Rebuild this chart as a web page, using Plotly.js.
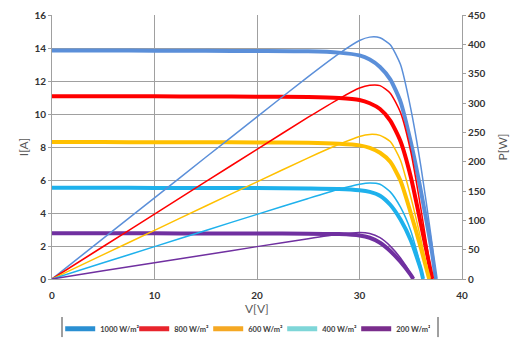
<!DOCTYPE html>
<html>
<head>
<meta charset="utf-8">
<script src="https://cdn.plot.ly/plotly-3.0.1.min.js"></script>
<style>html,body{margin:0;padding:0;background:#fff}#chart{width:510px;height:338px}</style>
</head>
<body>
<div id="chart"></div>
<script>
// Irradiance labels
var seriesNames = ['1000 W/m²', '800 W/m²', '600 W/m²', '400 W/m²', '200 W/m²'];

// Voltage samples (V) per irradiance
var v1000 = [0, 5, 10, 15, 20, 25, 28, 30, 31, 32, 33, 34, 35, 36, 37, 37.45];
var v800  = [0, 5, 10, 15, 20, 25, 28, 30, 31, 32, 33, 34, 35, 36, 37.1];
var v600  = [0, 5, 10, 15, 20, 25, 28, 30, 31, 32, 33, 34, 35, 36, 36.8];
var v400  = [0, 5, 10, 15, 20, 25, 28, 30, 31, 32, 33, 34, 35, 36, 36.2];
var v200  = [0, 5, 10, 15, 20, 25, 28, 30, 31, 32, 33, 34, 35, 35.25];

// Current (A)
var i1000 = [13.85, 13.85, 13.84, 13.83, 13.82, 13.80, 13.72, 13.55, 13.30, 12.85, 12.10, 10.75, 8.30, 5.30, 1.90, 0];
var i800  = [11.08, 11.08, 11.07, 11.06, 11.05, 11.03, 10.97, 10.85, 10.65, 10.30, 9.60, 8.35, 6.20, 3.30, 0];
var i600  = [8.30, 8.30, 8.29, 8.29, 8.28, 8.26, 8.20, 8.10, 7.95, 7.65, 7.10, 5.95, 4.00, 1.85, 0];
var i400  = [5.53, 5.53, 5.52, 5.52, 5.51, 5.49, 5.46, 5.38, 5.28, 5.05, 4.50, 3.60, 2.35, 0.55, 0];
var i200  = [2.77, 2.77, 2.77, 2.76, 2.76, 2.75, 2.72, 2.64, 2.50, 2.20, 1.70, 1.05, 0.25, 0];

// Power (W)
var p1000 = [0, 69.3, 138.4, 207.5, 276.4, 345.0, 384.2, 406.5, 412.3, 411.2, 399.3, 365.5, 290.5, 190.8, 70.3, 0];
var p800  = [0, 55.4, 110.7, 165.9, 221.0, 275.8, 307.2, 325.5, 330.2, 329.6, 316.8, 283.9, 217.0, 118.8, 0];
var p600  = [0, 41.5, 82.9, 124.4, 165.6, 206.5, 229.6, 243.0, 246.5, 244.8, 234.3, 202.3, 140.0, 66.6, 0];
var p400  = [0, 27.7, 55.2, 82.8, 110.2, 137.3, 152.9, 161.4, 163.7, 161.6, 148.5, 122.4, 82.3, 19.8, 0];
var p200  = [0, 13.9, 27.7, 41.4, 55.2, 68.8, 76.2, 79.2, 77.5, 70.4, 56.1, 35.7, 8.8, 0];

var plotColors   = ['#5B8FD9', '#FF0000', '#FFC000', '#1EB1EC', '#7030A0'];
var legendColors = ['#2A8FD2', '#E8242C', '#F5A823', '#7ED6D8', '#7A2D8C'];

var V = [v1000, v800, v600, v400, v200];
var I = [i1000, i800, i600, i400, i200];
var P = [p1000, p800, p600, p400, p200];

var traces = [];
for (var k = 0; k < 5; k++) {
  traces.push({x: V[k], y: I[k], yaxis: 'y', mode: 'lines', showlegend: false, hoverinfo: 'skip',
    line: {color: plotColors[k], width: 4, shape: 'spline', smoothing: 0.6}});
}
for (var k = 0; k < 5; k++) {
  traces.push({x: V[k], y: P[k], yaxis: 'y2', mode: 'lines', showlegend: false, hoverinfo: 'skip',
    line: {color: plotColors[k], width: 1.5, shape: 'spline', smoothing: 0.6}});
}
for (var k = 0; k < 5; k++) {
  traces.push({x: [null], y: [null], mode: 'lines', name: seriesNames[k], showlegend: true,
    line: {color: legendColors[k], width: 5}});
}

var fontFam = 'Lato, "Open Sans", sans-serif';
var tickFont = {family: fontFam, size: 10, color: '#333333', weight: 'bold'};
var titleFont = {family: fontFam, size: 12, color: '#595959'};
var gridCol = '#A0A0A0';

var layout = {
  width: 510, height: 338,
  margin: {l: 52, r: 48, t: 15, b: 59, autoexpand: false},
  paper_bgcolor: '#fff', plot_bgcolor: '#fff',
  showlegend: true,
  xaxis: {range: [0, 40], dtick: 10, showgrid: true, gridcolor: gridCol, gridwidth: 1, automargin: false,
    showline: true, linecolor: gridCol, linewidth: 1, zeroline: false, ticks: '', ticklabelstandoff: 7,
    tickfont: tickFont},
  yaxis: {range: [0, 16], dtick: 2, showgrid: true, gridcolor: gridCol, gridwidth: 1, automargin: false,
    showline: true, linecolor: gridCol, linewidth: 1, zeroline: false, ticks: 'outside', ticklen: 3, tickcolor: gridCol,
    tickfont: tickFont, title: {text: 'I[A]', font: titleFont, standoff: 3}},
  yaxis2: {range: [0, 450], dtick: 50, overlaying: 'y', side: 'right', showgrid: false, automargin: false,
    showline: true, linecolor: gridCol, linewidth: 1, zeroline: false, ticks: 'outside', ticklen: 3, tickcolor: gridCol,
    tickfont: tickFont, title: {text: 'P[W]', font: titleFont, standoff: 13}},
  annotations: [
    {text: 'V[V]', xref: 'paper', yref: 'paper', x: 0.5, y: -0.11, xanchor: 'center', yanchor: 'middle',
     showarrow: false, font: titleFont}
  ],
  legend: {orientation: 'h', x: 0.02, xanchor: 'left', yref: 'container', y: 0.07, yanchor: 'top',
    font: {family: fontFam, size: 7.5, color: '#404040', weight: 'bold'},
    itemwidth: 30, entrywidth: 29, bgcolor: 'rgba(0,0,0,0)', tracegroupgap: 0},
  shapes: [
    {type: 'line', xref: 'paper', yref: 'paper', x0: 0.0244, x1: 0.0244, y0: -0.144, y1: -0.22, line: {color: '#404040', width: 1}},
    {type: 'line', xref: 'paper', yref: 'paper', x0: 0.9415, x1: 0.9415, y0: -0.144, y1: -0.22, line: {color: '#404040', width: 1}}
  ]
};

Plotly.newPlot('chart', traces, layout, {displayModeBar: false, staticPlot: true});
</script>
</body>
</html>
